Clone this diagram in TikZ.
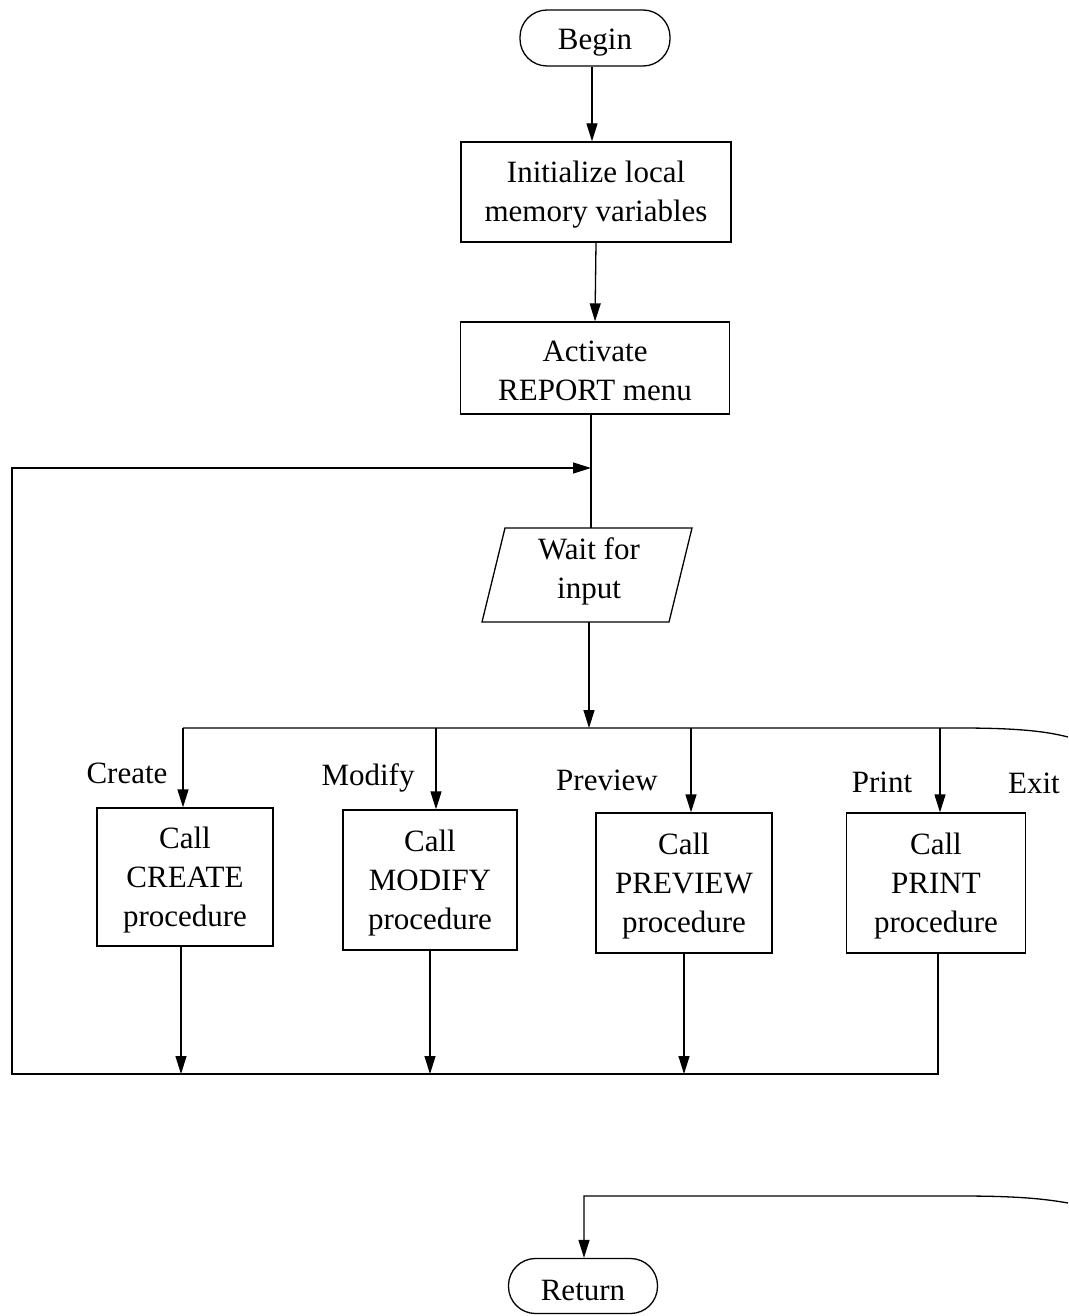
\documentclass[tikz,border=0pt]{standalone}
\usepackage{fontspec}
\setmainfont{Liberation Serif}
\usetikzlibrary{arrows.meta}
% invisible strut that lowers the text block slightly inside its box
\newcommand\firstlift{\rule{0pt}{27pt}}
\begin{document}
\begin{tikzpicture}[x=1pt,y=-1pt,
  line width=1.3pt,
  flow/.style={-{Triangle[length=18pt,width=11pt]}},
  txt/.style={font=\fontsize{31}{39}\selectfont, align=center, inner sep=0pt},
  box/.style={txt, draw},
  term/.style={txt, draw, rounded corners=27pt, execute at begin node={\rule{0pt}{30pt}}},
  lbl/.style={txt}]
\useasboundingbox (0,0) rectangle (1068,1316);

% main column
\node[term, minimum width=150pt, minimum height=56pt] (begin) at (595,38) {Begin};
\node[box, minimum width=270pt, minimum height=100pt] (init) at (596,192) {\firstlift Initialize local\\memory variables};
\node[box, minimum width=269pt, minimum height=92pt] (act) at (595,368) {\firstlift Activate\\REPORT menu};

% input parallelogram
\node[txt, minimum width=187pt, minimum height=94pt] (wait) at (589,571) {Wait for\\input};
\draw (505,528) -- (692,528) -- (669,622) -- (482,622) -- cycle;

% procedure boxes
\node[box, minimum width=176pt, minimum height=138pt] (create) at (185,877) {\firstlift Call\\CREATE\\procedure};
\node[box, minimum width=174pt, minimum height=140pt] (modify) at (430,880) {\firstlift Call\\MODIFY\\procedure};
\node[box, minimum width=176pt, minimum height=140pt] (preview) at (684,883) {\firstlift Call\\PREVIEW\\procedure};
\node[box, minimum width=179pt, minimum height=140pt] (print) at (936,883) {\firstlift Call\\PRINT\\procedure};

% choice labels
\node[lbl] (lcreate) at (127,773) {Create};
\node[lbl] (lmodify) at (368,778) {Modify};
\node[lbl] (lpreview) at (607,780) {Preview};
\node[lbl] (lprint) at (882,782) {Print};
\node[lbl] (lexit) at (1034,783) {Exit};

\node[term, minimum width=149pt, minimum height=55pt] (ret) at (583,1286) {Return};

% junction points
\coordinate (loopin) at (591,468);
\coordinate (waittop) at (591,528);
\coordinate (waitbottom) at (589,622);
\coordinate (split) at (589,728);
\coordinate (loopcorner) at (12,1074);
\coordinate (exitout) at (1068,737);
\coordinate (exitback) at (1068,1203);
\coordinate (retbend) at (584,1196);

% connectors
\draw[flow] (begin.south -| 592,0) -- (init.north -| 592,0);
\draw[flow] (init.south) -- (act.north);
\draw (act.south -| loopin) -- (waittop);
\draw[flow] (waitbottom) -- (split);
\draw (183,728) -- (960,728) .. controls (1015,728) and (1045,731) .. (exitout);
\draw[flow] (183,728) -- (create.north -| 183,0);
\draw[flow] (436,728) -- (modify.north -| 436,0);
\draw[flow] (691,728) -- (preview.north -| 691,0);
\draw[flow] (940,728) -- (print.north -| 940,0);

\draw[flow] (create.south -| 181,0) -- (loopcorner -| 181,0);
\draw[flow] (modify.south) -- (modify.south |- loopcorner);
\draw[flow] (preview.south) -- (preview.south |- loopcorner);
\draw[flow] (print.south -| 938,0) |- (loopcorner) |- (loopin);

\draw[flow] (exitback) .. controls (1040,1198) and (1010,1196) .. (960,1196) -- (retbend) -- (ret.north -| retbend);
\end{tikzpicture}
\end{document}
